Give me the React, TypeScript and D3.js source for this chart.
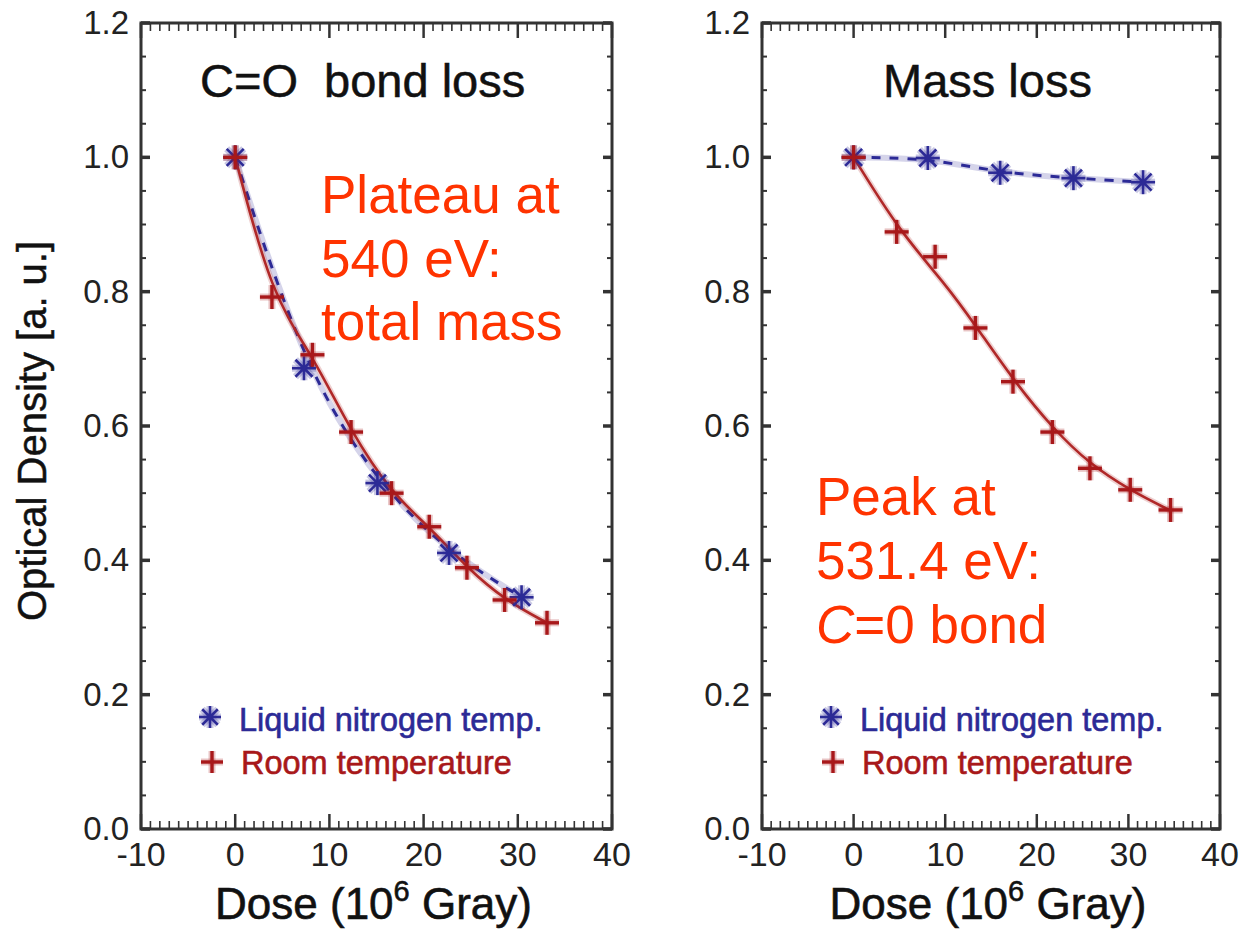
import React, { useRef, useEffect } from 'react';
import * as d3 from 'd3';

// left panel: C=O bond loss
const doseLN_CO = [0, 7.3, 15.1, 22.7, 30.4];
const odLN_CO = [1.0, 0.686, 0.515, 0.411, 0.345];
const doseRT_CO = [0, 3.9, 8.2, 12.3, 16.6, 20.6, 24.6, 28.6, 33.1];
const odRT_CO = [1.0, 0.792, 0.706, 0.591, 0.5, 0.45, 0.389, 0.341, 0.307];

// right panel: mass loss
const doseLN_mass = [0, 8.1, 16.0, 24.0, 31.6];
const odLN_mass = [1.0, 0.999, 0.977, 0.969, 0.963];
const doseRT_mass = [0, 4.7, 8.9, 13.3, 17.4, 21.7, 25.8, 30.2, 34.6];
const odRT_mass = [1.0, 0.889, 0.852, 0.746, 0.666, 0.591, 0.537, 0.505, 0.475];
// fitted curve for room temperature mass loss
const fitDoseRT_mass = [0, 5, 10, 13.3, 17.4, 21.7, 25.8, 30.2, 34.6];
const fitOdRT_mass = [1.0, 0.89, 0.812, 0.75, 0.669, 0.597, 0.543, 0.504, 0.474];

const xTicks = [-10, 0, 10, 20, 30, 40];
const yTicks = [0, 0.2, 0.4, 0.6, 0.8, 1.0, 1.2];
const panelTitles = ['C=O  bond loss', 'Mass loss'];
const legendLabels = ['Liquid nitrogen temp.', 'Room temperature'];
const notesLeft = ['Plateau at', '540 eV:', 'total mass'];
const notesRight = ['Peak at', '531.4 eV:', 'C=0 bond'];

const BLUE = '#2c2a96';
const RED = '#a8181a';
const NOTE = '#ff3300';
const AXIS = '#333';
const FONT = '"Liberation Sans", Arial, Helvetica, sans-serif';

const App = () => {
  const svgRef = useRef(null);

  useEffect(() => {
    const svg = d3.select(svgRef.current);
    svg.selectAll('*').remove();

    const panels = [
      {
        x0: 141, x1: 612, ln: [doseLN_CO, odLN_CO], rt: [doseRT_CO, odRT_CO],
        rtFit: [doseRT_CO, odRT_CO], title: panelTitles[0], titleX: 200, legX: 210,
      },
      {
        x0: 762, x1: 1220, ln: [doseLN_mass, odLN_mass], rt: [doseRT_mass, odRT_mass],
        rtFit: [fitDoseRT_mass, fitOdRT_mass], title: panelTitles[1], titleX: 883, legX: 831,
      },
    ];

    const asterisk = (g, cx, cy, r, color) => {
      const angles = [0, 45, 90, 135];
      [[7, 0.25], [2.6, 1]].forEach(([w, op]) => {
        angles.forEach(a => {
          const rad = (a * Math.PI) / 180;
          g.append('line')
            .attr('x1', cx - r * Math.cos(rad)).attr('y1', cy - r * Math.sin(rad))
            .attr('x2', cx + r * Math.cos(rad)).attr('y2', cy + r * Math.sin(rad))
            .attr('stroke', color).attr('stroke-width', w).attr('opacity', op);
        });
      });
    };

    const plus = (g, cx, cy, r, color) => {
      [[7, 0.25], [3.4, 1]].forEach(([w, op]) => {
        g.append('line').attr('x1', cx - r).attr('y1', cy).attr('x2', cx + r).attr('y2', cy)
          .attr('stroke', color).attr('stroke-width', w).attr('opacity', op);
        g.append('line').attr('x1', cx).attr('y1', cy - r).attr('x2', cx).attr('y2', cy + r)
          .attr('stroke', color).attr('stroke-width', w).attr('opacity', op);
      });
    };

    panels.forEach(p => {
      const x = d3.scaleLinear().domain([-10, 40]).range([p.x0, p.x1]);
      const y = d3.scaleLinear().domain([0, 1.2]).range([829, 23]);
      const g = svg.append('g');

      // frame
      g.append('rect')
        .attr('x', p.x0).attr('y', y(1.2))
        .attr('width', p.x1 - p.x0).attr('height', y(0) - y(1.2))
        .attr('fill', 'none').attr('stroke', AXIS).attr('stroke-width', 3);

      // x ticks bottom + top
      d3.range(-10, 41, 1).forEach(v => {
        const major = v % 10 === 0;
        const len = major ? 15 : 8;
        g.append('line').attr('x1', x(v)).attr('x2', x(v))
          .attr('y1', y(0)).attr('y2', y(0) - len)
          .attr('stroke', AXIS).attr('stroke-width', major ? 2.5 : 1.6);
        g.append('line').attr('x1', x(v)).attr('x2', x(v))
          .attr('y1', y(1.2)).attr('y2', y(1.2) + len)
          .attr('stroke', AXIS).attr('stroke-width', major ? 2.5 : 1.6);
      });

      // y ticks left + right
      d3.range(0, 25, 1).map(i => i * 0.05).forEach((v, i) => {
        const major = i % 4 === 0;
        const len = major ? 9 : 5;
        g.append('line').attr('x1', p.x0).attr('x2', p.x0 + len)
          .attr('y1', y(v)).attr('y2', y(v))
          .attr('stroke', AXIS).attr('stroke-width', major ? 3.5 : 2);
        g.append('line').attr('x1', p.x1).attr('x2', p.x1 - len)
          .attr('y1', y(v)).attr('y2', y(v))
          .attr('stroke', AXIS).attr('stroke-width', major ? 3.5 : 2);
      });

      // tick labels
      g.selectAll('.xl').data(xTicks).enter().append('text')
        .attr('x', d => x(d)).attr('y', 866)
        .attr('text-anchor', 'middle')
        .attr('font-family', FONT).attr('font-size', 34).attr('fill', '#222')
        .text(d => d);

      g.selectAll('.yl').data(yTicks).enter().append('text')
        .attr('x', p.x0 - 12).attr('y', d => y(d) + 11)
        .attr('text-anchor', 'end')
        .attr('font-family', FONT).attr('font-size', 33).attr('fill', '#222')
        .text(d => d.toFixed(1));

      // x axis title
      const xt = g.append('text')
        .attr('x', (p.x0 + p.x1) / 2 - 3).attr('y', 919)
        .attr('text-anchor', 'middle')
        .attr('font-family', FONT).attr('font-size', 44).attr('fill', '#111')
        .attr('stroke', '#111').attr('stroke-width', 0.6);
      xt.append('tspan').text('Dose (10');
      xt.append('tspan').attr('font-size', 29).attr('dy', -18).text('6');
      xt.append('tspan').attr('dy', 18).text(' Gray)');

      // panel title
      g.append('text')
        .attr('x', p.titleX).attr('y', 97)
        .attr('font-family', FONT).attr('font-size', 47).attr('fill', '#111')
        .attr('stroke', '#111').attr('stroke-width', 0.5)
        .style('white-space', 'pre')
        .text(p.title);

      // curves
      const line = d3.line().x(d => x(d[0])).y(d => y(d[1])).curve(d3.curveBasis);
      const lnPts = p.ln[0].map((d, i) => [d, p.ln[1][i]]);
      const rtPts = p.rt[0].map((d, i) => [d, p.rt[1][i]]);
      const fitPts = p.rtFit[0].map((d, i) => [d, p.rtFit[1][i]]);

      g.append('path').attr('d', line(lnPts)).attr('fill', 'none')
        .attr('stroke', BLUE).attr('stroke-width', 6).attr('opacity', 0.2);
      g.append('path').attr('d', line(lnPts)).attr('fill', 'none')
        .attr('stroke', BLUE).attr('stroke-width', 3).attr('stroke-dasharray', '9,9');

      g.append('path').attr('d', line(fitPts)).attr('fill', 'none')
        .attr('stroke', RED).attr('stroke-width', 6).attr('opacity', 0.2);
      g.append('path').attr('d', line(fitPts)).attr('fill', 'none')
        .attr('stroke', '#b02828').attr('stroke-width', 2.6);

      // markers
      lnPts.forEach(d => asterisk(g, x(d[0]), y(d[1]), 12, BLUE));
      rtPts.forEach(d => plus(g, x(d[0]), y(d[1]), 12, RED));

      // legend
      asterisk(g, p.legX, 717, 11, BLUE);
      plus(g, p.legX + 2, 762, 11, RED);
      g.append('text').attr('x', p.legX + 29).attr('y', 731)
        .attr('font-family', FONT).attr('font-size', 32.5).attr('fill', BLUE)
        .attr('stroke', BLUE).attr('stroke-width', 0.6)
        .text(legendLabels[0]);
      g.append('text').attr('x', p.legX + 31).attr('y', 774)
        .attr('font-family', FONT).attr('font-size', 32.5).attr('fill', RED)
        .attr('stroke', RED).attr('stroke-width', 0.6)
        .text(legendLabels[1]);
    });

    // y axis title
    svg.append('text')
      .attr('transform', 'translate(46,431) rotate(-90)')
      .attr('text-anchor', 'middle')
      .attr('font-family', FONT).attr('font-size', 40).attr('fill', '#111')
      .attr('stroke', '#111').attr('stroke-width', 0.5)
      .text('Optical Density [a. u.]');

    // red annotations
    notesLeft.forEach((t, i) => {
      svg.append('text').attr('x', 321).attr('y', 213 + i * 63.5)
        .attr('font-family', FONT).attr('font-size', 53).attr('fill', NOTE)
        .text(t);
    });
    notesRight.forEach((t, i) => {
      const el = svg.append('text').attr('x', 816).attr('y', 515 + i * 64)
        .attr('font-family', FONT).attr('font-size', 53).attr('fill', NOTE);
      if (i === 2) {
        el.append('tspan').attr('font-style', 'italic').text('C');
        el.append('tspan').text(t.slice(1));
      } else {
        el.text(t);
      }
    });
  }, []);

  return (
    <div style={{ position: 'absolute', left: 0, top: 0 }}>
      <svg ref={svgRef} width={1260} height={932} style={{ display: 'block', background: '#fff' }}></svg>
    </div>
  );
};

export default App;
